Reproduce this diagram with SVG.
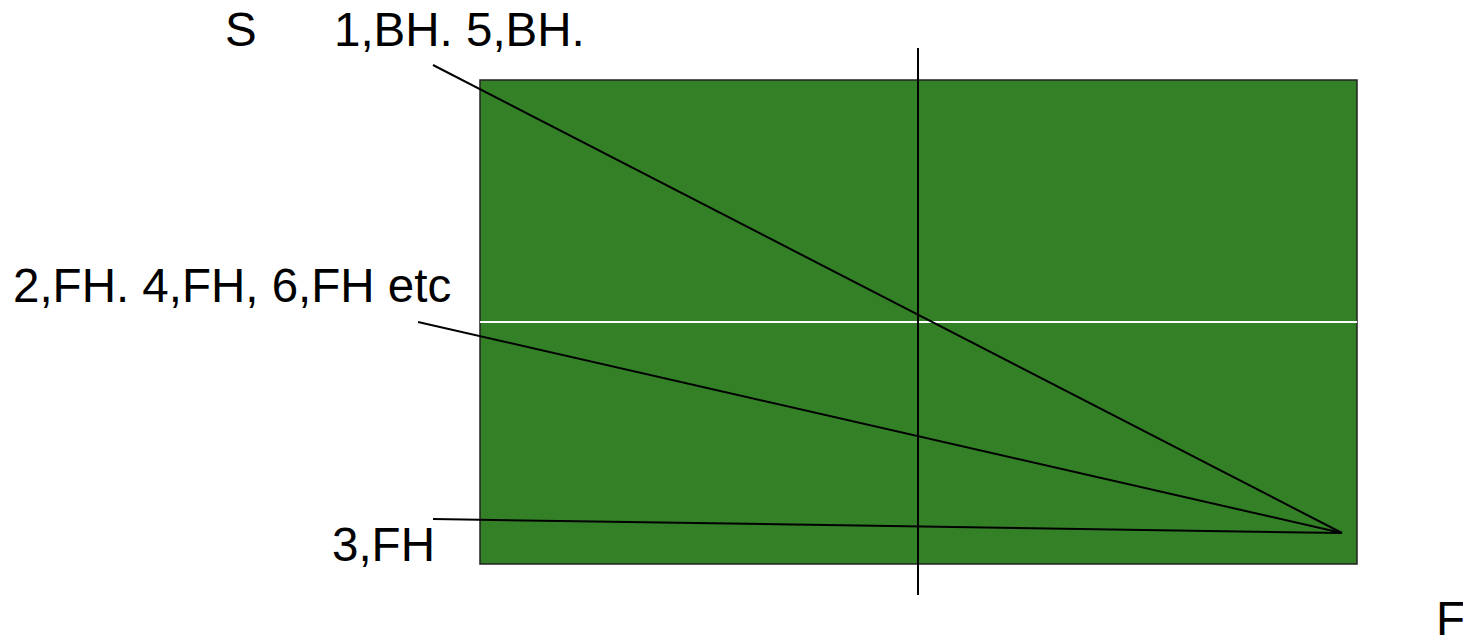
<svg xmlns="http://www.w3.org/2000/svg" width="1463" height="641" viewBox="0 0 1463 641">
<style>
text{font-family:"Liberation Sans",Arial,sans-serif;font-size:47.5px;fill:#000}
.ln{stroke:#000;stroke-width:2;fill:none}
</style>
<rect width="1463" height="641" fill="#fff"/>
<g id="field">
<rect x="480" y="80" width="877" height="484" fill="#338027" stroke="#222" stroke-width="1.5"/>
<line x1="480" y1="322" x2="1357" y2="322" stroke="#fff" stroke-width="2"/>
<line x1="918" y1="48" x2="918" y2="595" class="ln"/>
</g>
<g id="connectors">
<line x1="433" y1="65" x2="1342" y2="533" class="ln"/>
<line x1="418" y1="322" x2="1342" y2="533" class="ln"/>
<line x1="433" y1="519" x2="1342" y2="533" class="ln"/>
</g>
<g id="labels">
<text x="225" y="46">S</text>
<text x="334" y="46">1,BH. 5,BH.</text>
<text x="13" y="302">2,FH. 4,FH, 6,FH etc</text>
<text x="332" y="561">3,FH</text>
<text x="1436" y="635">F</text>
</g>
</svg>
